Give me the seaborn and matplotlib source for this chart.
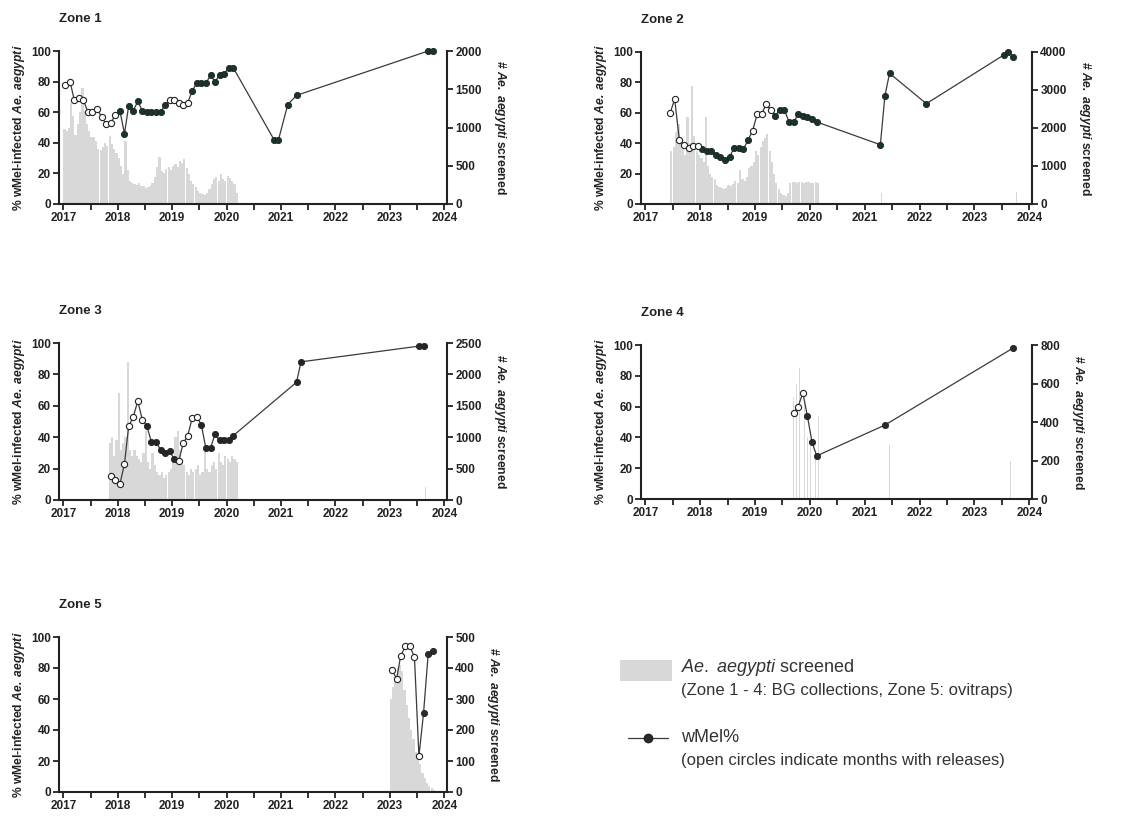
import numpy as np
import pandas as pd
import matplotlib
matplotlib.use("Agg")
import matplotlib.pyplot as plt
import seaborn as sns
from matplotlib.patches import Rectangle
from matplotlib.lines import Line2D

# ---- data ----
zone_names = ["Zone 1", "Zone 2", "Zone 3", "Zone 4", "Zone 5"]
right_max = [2000, 4000, 2500, 800, 500]
right_step = [500, 1000, 500, 200, 100]

# wMel % per month (first contiguous monthly run, then later single months)
z1_start = "2017-01"
z1_wmel = [78, 80, 68, 69, 68, 60, 60, 62, 57, 52, 53, 58, 61, 46, 64, 61, 67, 61, 60,
           60, 60, 60, 65, 68, 68, 66, 65, 66, 74, 79, 79, 79, 84, 80, 84, 85, 89, 89]
z1_open = [1, 1, 1, 1, 1, 1, 1, 1, 1, 1, 1, 1, 0, 0, 0, 0, 0, 0, 0,
           0, 0, 0, 0, 1, 1, 1, 1, 1, 0, 0, 0, 0, 0, 0, 0, 0, 0, 0]
z1_late_months = ["2020-11", "2020-12", "2021-02", "2021-04", "2023-09", "2023-10"]
z1_late_wmel = [42, 42, 65, 71, 100, 100]

z2_start = "2017-06"
z2_wmel = [60, 69, 42, 39, 37, 38, 38, 36, 35, 35, 32, 31, 29, 31, 37, 37, 36,
           42, 48, 59, 59, 66, 62, 58, 62, 62, 54, 54, 59, 58, 57, 56, 54]
z2_open = [1, 1, 1, 1, 1, 1, 1, 0, 0, 0, 0, 0, 0, 0, 0, 0, 0,
           0, 1, 1, 1, 1, 1, 0, 0, 0, 0, 0, 0, 0, 0, 0, 0]
z2_late_months = ["2021-04", "2021-05", "2021-06", "2022-02", "2023-07", "2023-08", "2023-09"]
z2_late_wmel = [39, 71, 86, 66, 98, 100, 97]

z3_start = "2017-11"
z3_wmel = [15, 13, 10, 23, 47, 53, 63, 51, 47, 37, 37, 32, 30, 31,
           26, 25, 36, 41, 52, 53, 48, 33, 33, 42, 38, 38, 38, 41]
z3_open = [1, 1, 1, 1, 1, 1, 1, 1, 0, 0, 0, 0, 0, 0,
           0, 1, 1, 1, 1, 1, 0, 0, 0, 0, 0, 0, 0, 0]
z3_late_months = ["2021-04", "2021-05", "2023-07", "2023-08"]
z3_late_wmel = [75, 88, 98, 98]

z4_start = "2019-09"
z4_wmel = [56, 60, 69, 54, 37, 28]
z4_open = [1, 1, 1, 0, 0, 0]
z4_late_months = ["2021-05", "2023-09"]
z4_late_wmel = [48, 98]

z5_start = "2023-01"
z5_wmel = [79, 73, 88, 94, 94, 87, 23, 51, 89, 91]
z5_open = [1, 1, 1, 1, 1, 1, 1, 0, 0, 0]
z5_late_months = []
z5_late_wmel = []

# Ae. aegypti screened, semi-monthly collections (right axis)
z1_bar_start = "2017-01-01"
z1_bars = [980, 950, 1000, 1320, 1150, 900, 1040, 1200, 1520, 1220,
           1050, 960, 880, 870, 820, 720, 700, 740, 800, 760,
           890, 780, 720, 670, 600, 500, 390, 830, 450, 300,
           280, 260, 250, 270, 240, 230, 210, 220, 240, 280,
           350, 480, 610, 430, 400, 460, 480, 450, 500, 520,
           480, 560, 540, 590, 470, 390, 300, 260, 220, 170,
           150, 130, 120, 140, 200, 260, 330, 350, 300, 390,
           330, 300, 370, 340, 300, 260, 150]
z1_extra_x, z1_extra = [], []

z2_bar_start = "2017-06-15"
z2_bars = [1400, 1500, 1900, 2100, 1700, 1500, 1300, 2300, 1600, 3100,
           1800, 1400, 1300, 1200, 1100, 2300, 1000, 800, 700, 650,
           500, 450, 420, 400, 420, 500, 480, 520, 600, 550,
           900, 650, 600, 700, 950, 1000, 1100, 1400, 1300, 1500,
           1650, 1750, 1850, 1400, 1100, 800, 550, 400, 300, 250,
           200, 300, 550, 570, 580, 560, 580, 570, 560, 580,
           570, 560, 550, 570, 560]
z2_extra_x, z2_extra = [2021.30, 2023.75], [300, 320]

z3_bar_start = "2017-11-01"
z3_bars = [900, 1000, 700, 950, 1700, 800, 900, 1000, 2200, 800,
           700, 800, 700, 650, 600, 750, 1100, 600, 500, 750,
           550, 450, 400, 450, 350, 400, 450, 500, 700, 1000,
           1100, 800, 650, 550, 450, 400, 500, 450, 500, 550,
           400, 450, 800, 500, 450, 550, 600, 500, 750, 600,
           550, 700, 650, 600, 700, 650, 600]
z3_extra_x, z3_extra = [2023.65], [200]

z4_bar_start = None
z4_bars = []
z4_extra_x = [2019.65, 2019.70, 2019.75, 2019.80, 2019.85, 2019.90, 2019.95,
              2020.00, 2020.05, 2020.10, 2020.15, 2021.45, 2023.65]
z4_extra = [380, 530, 600, 680, 650, 520, 320, 300, 440, 250, 430, 280, 195]

z5_bar_start = "2023-01-01"
z5_bars = [300, 340, 370, 400, 410, 390, 330, 280, 240, 200,
           170, 130, 110, 90, 60, 45, 30, 20, 12, 6]
z5_extra_x, z5_extra = [], []

# ---- helpers ----
def dec_year(ts):
    days = 366 if ts.is_leap_year else 365
    return ts.year + (ts.dayofyear - 1) / days

def month_mid(m):
    p = pd.Period(m, freq="M")
    return dec_year(p.start_time + pd.Timedelta(days=14))

def month_run(start, n):
    return [str(p) for p in pd.period_range(start, periods=n, freq="M")]

def semi_month_run(start, n):
    return [dec_year(t) for t in pd.date_range(start, periods=n, freq="SMS")]

zones = [
    (z1_start, z1_wmel, z1_open, z1_late_months, z1_late_wmel, z1_bar_start, z1_bars, z1_extra_x, z1_extra),
    (z2_start, z2_wmel, z2_open, z2_late_months, z2_late_wmel, z2_bar_start, z2_bars, z2_extra_x, z2_extra),
    (z3_start, z3_wmel, z3_open, z3_late_months, z3_late_wmel, z3_bar_start, z3_bars, z3_extra_x, z3_extra),
    (z4_start, z4_wmel, z4_open, z4_late_months, z4_late_wmel, z4_bar_start, z4_bars, z4_extra_x, z4_extra),
    (z5_start, z5_wmel, z5_open, z5_late_months, z5_late_wmel, z5_bar_start, z5_bars, z5_extra_x, z5_extra),
]

# ---- style ----
sns.set_theme(style="ticks")
plt.rcParams["font.family"] = ["Liberation Sans", "DejaVu Sans"]
plt.rcParams["mathtext.fontset"] = "custom"
plt.rcParams["mathtext.rm"] = "Liberation Sans"
plt.rcParams["mathtext.it"] = "Liberation Sans:italic"
plt.rcParams["mathtext.bf"] = "Liberation Sans:bold"
plt.rcParams["mathtext.bfit"] = "Liberation Sans:italic:bold"

INK = "#222222"
BAR = "#d8d8d8"
LINE = "#3a3a3a"
fill_cols = ["#17352f", "#17352f", "#262626", "#2a2a2a", "#2a2a2a"]
bar_widths = [1 / 24, 1 / 24, 1 / 24, 0.014, 1 / 24]

W, H = 1130, 817
fig = plt.figure(figsize=(W / 100, H / 100), dpi=100)

# axes boxes in pixels: left, top, right, bottom
boxes = [(59, 51, 447, 204), (641, 52, 1032, 204),
         (59, 343, 447, 500), (641, 345, 1032, 499),
         (59, 637, 447, 792)]

for i, (start, wmel, opn, late_m, late_w, bstart, bars, ex_x, ex_v) in enumerate(zones):
    l, t, r, b = boxes[i]
    ax = fig.add_axes([l / W, 1 - b / H, (r - l) / W, (b - t) / H])
    ax2 = ax.twinx()

    # bars on the right axis
    if bstart is not None:
        ax2.bar(semi_month_run(bstart, len(bars)), bars, width=bar_widths[i],
                align="edge", color=BAR, linewidth=0)
    if ex_x:
        ax2.bar(ex_x, ex_v, width=bar_widths[i] if i == 3 else 0.02,
                align="edge", color=BAR, linewidth=0)

    months = month_run(start, len(wmel)) + late_m
    df = pd.DataFrame({
        "x": [month_mid(m) for m in months],
        "y": wmel + late_w,
        "open": opn + [0] * len(late_w),
    })

    ax.set_zorder(ax2.get_zorder() + 1)
    ax.patch.set_visible(False)
    sns.lineplot(data=df, x="x", y="y", ax=ax, color=LINE, linewidth=0.9,
                 sort=False, estimator=None, zorder=2)
    sns.scatterplot(data=df[df["open"] == 0], x="x", y="y", ax=ax, color=fill_cols[i],
                    edgecolor=INK, linewidth=0.6, s=20, zorder=3, clip_on=False)
    sns.scatterplot(data=df[df["open"] == 1], x="x", y="y", ax=ax, color="white",
                    edgecolor=INK, linewidth=0.8, s=20, zorder=3, clip_on=False)

    ax.set_xlim(2016.92, 2024.05)
    ax.set_ylim(0, 100)
    ax2.set_ylim(0, right_max[i])
    ax.set_xticks(range(2017, 2025))
    ax.set_xticks(np.arange(2017.5, 2024, 1), minor=True)
    ax.set_yticks(range(0, 101, 20))
    ax2.set_yticks(np.arange(0, right_max[i] + 1, right_step[i]))

    for a in (ax, ax2):
        a.spines["top"].set_visible(False)
        for s in ("left", "right", "bottom"):
            a.spines[s].set_linewidth(1.5)
            a.spines[s].set_color(INK)
    ax.spines["right"].set_visible(False)
    ax2.spines["left"].set_visible(False)
    ax2.spines["bottom"].set_visible(False)

    ax.tick_params(axis="both", which="both", length=4.5, width=1.3, color=INK,
                   labelsize=8.5, labelcolor=INK, pad=1.5)
    ax2.tick_params(axis="y", length=4.5, width=1.3, color=INK,
                    labelsize=8.5, labelcolor=INK, pad=1.5)
    for lab in ax.get_xticklabels() + ax.get_yticklabels() + ax2.get_yticklabels():
        lab.set_fontweight("bold")

    ax.set_xlabel("")
    ax.set_ylabel(r"% wMel-infected $\mathbfit{Ae.\ aegypti}$", fontsize=8.7,
                  fontweight="bold", color=INK, labelpad=3)
    ax2.set_ylabel(r"# $\mathbfit{Ae.\ aegypti}$ screened", fontsize=8.7,
                   fontweight="bold", color=INK, rotation=270, va="bottom", labelpad=7)

    ax.text(0.0, 1 + 32 / (b - t), zone_names[i], transform=ax.transAxes,
            ha="left", va="center", fontsize=9.5, fontweight="bold", color=INK)

# ---- legend (drawn on the figure) ----
def fx(x):
    return x / W

def fy(y):
    return 1 - y / H

fig.add_artist(Rectangle((fx(620), fy(681)), fx(672) - fx(620), fy(660) - fy(681),
                         transform=fig.transFigure, color=BAR, linewidth=0))
fig.text(fx(681), fy(668), r"$\mathit{Ae.\ aegypti}$ screened", fontsize=13,
         color="#333333", va="center", ha="left")
fig.text(fx(681), fy(691), "(Zone 1 - 4: BG collections, Zone 5: ovitraps)",
         fontsize=12, color="#333333", va="center", ha="left")
fig.add_artist(Line2D([fx(628), fx(668)], [fy(738), fy(738)], transform=fig.transFigure,
                      color=LINE, linewidth=0.9))
fig.add_artist(Line2D([fx(648)], [fy(738)], transform=fig.transFigure, marker="o",
                      markersize=6, markerfacecolor="#2a2a2a", markeredgecolor=INK))
fig.text(fx(681), fy(737), "wMel%", fontsize=13, color="#333333", va="center", ha="left")
fig.text(fx(681), fy(760), "(open circles indicate months with releases)",
         fontsize=12, color="#333333", va="center", ha="left")

fig.savefig("out.png", dpi=100)
